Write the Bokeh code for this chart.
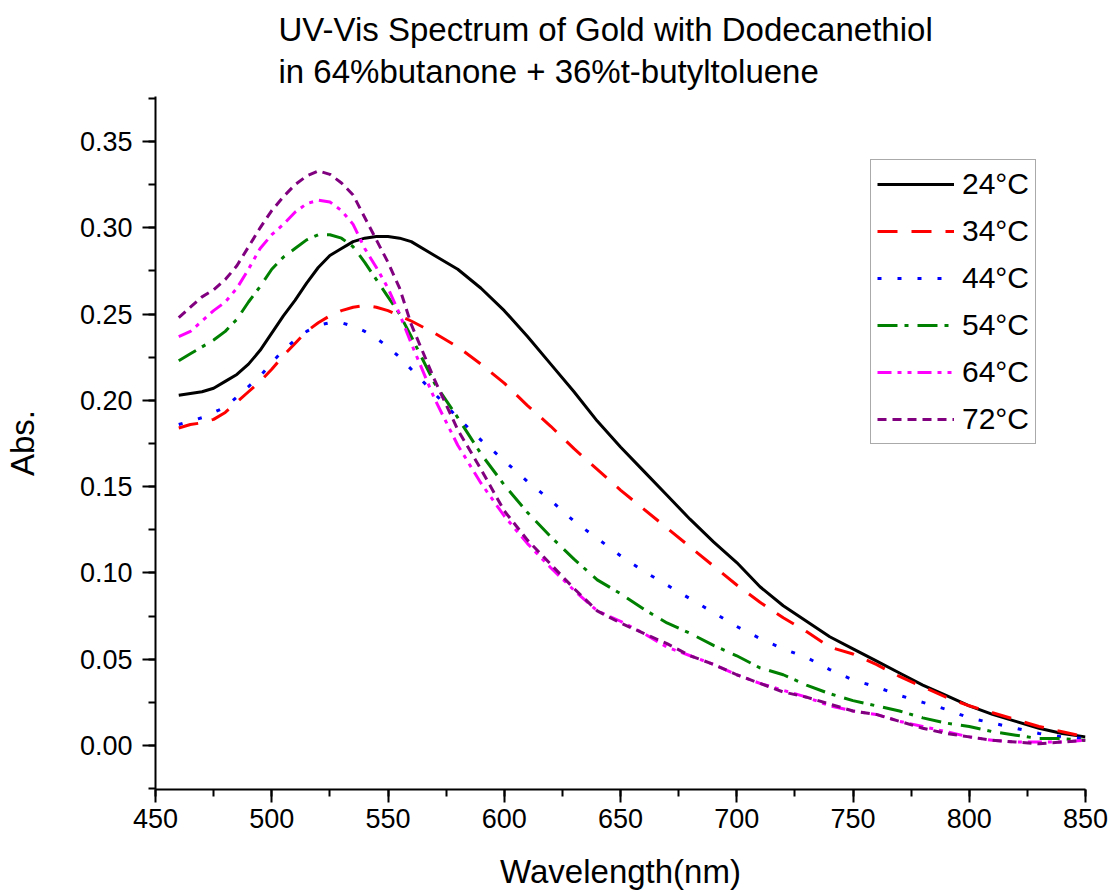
from bokeh.plotting import figure
from bokeh.models import (Range1d, SingleIntervalTicker, NumeralTickFormatter,
                          Title, Legend, LegendItem)
from bokeh.embed import file_html
from bokeh.resources import INLINE

wavelength = [460, 465, 470, 475, 480, 485, 490, 495, 500, 505, 510, 515, 520, 525,
              530, 535, 540, 545, 550, 555, 560, 570, 580, 590, 600, 610, 620, 630,
              640, 650, 660, 670, 680, 690, 700, 710, 720, 730, 740, 750, 760, 770,
              780, 790, 800, 810, 820, 830, 840, 850]

abs_24 = [0.203, 0.204, 0.205, 0.207, 0.211, 0.215, 0.221, 0.229, 0.239, 0.249, 0.258,
          0.268, 0.277, 0.284, 0.288, 0.292, 0.294, 0.295, 0.295, 0.294, 0.292, 0.284,
          0.276, 0.265, 0.252, 0.237, 0.221, 0.205, 0.188, 0.173, 0.159, 0.145, 0.131,
          0.118, 0.106, 0.092, 0.081, 0.072, 0.063, 0.056, 0.049, 0.042, 0.035, 0.029,
          0.023, 0.018, 0.014, 0.010, 0.007, 0.005]
abs_34 = [0.184, 0.186, 0.187, 0.189, 0.193, 0.199, 0.205, 0.211, 0.218, 0.226, 0.233,
          0.240, 0.245, 0.249, 0.252, 0.254, 0.255, 0.254, 0.252, 0.249, 0.246, 0.239,
          0.231, 0.221, 0.210, 0.197, 0.185, 0.172, 0.160, 0.148, 0.137, 0.126, 0.115,
          0.104, 0.093, 0.083, 0.074, 0.066, 0.057, 0.053, 0.047, 0.040, 0.034, 0.028,
          0.023, 0.019, 0.015, 0.011, 0.008, 0.005]
abs_44 = [0.186, 0.188, 0.190, 0.193, 0.196, 0.202, 0.208, 0.214, 0.222, 0.229, 0.235,
          0.240, 0.2435, 0.245, 0.245, 0.243, 0.240, 0.236, 0.231, 0.225, 0.218, 0.204,
          0.190, 0.177, 0.165, 0.153, 0.142, 0.130, 0.120, 0.110, 0.101, 0.093, 0.085,
          0.077, 0.069, 0.062, 0.056, 0.051, 0.044, 0.038, 0.034, 0.029, 0.025, 0.021,
          0.016, 0.013, 0.010, 0.007, 0.005, 0.004]
abs_54 = [0.223, 0.227, 0.231, 0.235, 0.240, 0.247, 0.257, 0.266, 0.276, 0.283, 0.288,
          0.293, 0.296, 0.296, 0.294, 0.289, 0.280, 0.270, 0.260, 0.250, 0.237, 0.210,
          0.190, 0.169, 0.151, 0.135, 0.121, 0.108, 0.096, 0.088, 0.079, 0.071, 0.065,
          0.058, 0.052, 0.045, 0.041, 0.035, 0.030, 0.026, 0.023, 0.020, 0.016, 0.013,
          0.011, 0.008, 0.006, 0.004, 0.004, 0.003]
abs_64 = [0.237, 0.240, 0.246, 0.252, 0.257, 0.265, 0.276, 0.288, 0.296, 0.302, 0.309,
          0.314, 0.316, 0.315, 0.310, 0.302, 0.288, 0.277, 0.265, 0.250, 0.233, 0.201,
          0.174, 0.152, 0.133, 0.117, 0.103, 0.090, 0.078, 0.072, 0.065, 0.057, 0.052,
          0.047, 0.041, 0.036, 0.032, 0.028, 0.023, 0.020, 0.018, 0.014, 0.011, 0.008,
          0.005, 0.003, 0.002, 0.002, 0.002, 0.003]
abs_72 = [0.248, 0.254, 0.260, 0.264, 0.270, 0.278, 0.289, 0.300, 0.310, 0.318, 0.325,
          0.330, 0.333, 0.331, 0.326, 0.319, 0.306, 0.293, 0.280, 0.265, 0.244, 0.212,
          0.183, 0.160, 0.136, 0.119, 0.105, 0.091, 0.078, 0.071, 0.065, 0.059, 0.052,
          0.047, 0.041, 0.036, 0.031, 0.028, 0.024, 0.020, 0.018, 0.014, 0.010, 0.007,
          0.005, 0.003, 0.002, 0.001, 0.002, 0.003]

series_labels = ["24°C", "34°C", "44°C", "54°C", "64°C", "72°C"]
series_values = [abs_24, abs_34, abs_44, abs_54, abs_64, abs_72]
series_colors = ["#000000", "#FF0000", "#0000FF", "#008000", "#FF00FF", "#800080"]
series_dashes = ["solid", "20 14", "4 16", "20 7 4 9", "14 6 4 6 4 6", "9 6"]

FONT = "Liberation Sans"

p = figure(frame_width=930, frame_height=693, title=None,
           x_range=Range1d(450, 850), y_range=Range1d(-0.0255, 0.3761),
           output_backend="svg", toolbar_location=None,
           min_border_left=155, min_border_right=25, min_border_top=96,
           min_border_bottom=103)
p.outline_line_color = None
p.xgrid.visible = False
p.ygrid.visible = False

renderers = []
for vals, col, dash in zip(series_values, series_colors, series_dashes):
    r = p.line(wavelength, vals, line_color=col, line_width=3, line_dash=dash)
    renderers.append(r)

p.xaxis.ticker = SingleIntervalTicker(interval=50, num_minor_ticks=2)
p.yaxis.ticker = SingleIntervalTicker(interval=0.05, num_minor_ticks=2)
p.yaxis.formatter = NumeralTickFormatter(format="0.00")
p.xaxis.axis_label = "Wavelength(nm)"
p.yaxis.axis_label = "Abs."

for ax in [p.xaxis[0], p.yaxis[0]]:
    ax.axis_line_width = 2
    ax.axis_line_color = "black"
    ax.major_tick_line_width = 2
    ax.minor_tick_line_width = 2
    ax.major_tick_line_color = "black"
    ax.minor_tick_line_color = "black"
    ax.major_tick_out = 13
    ax.major_tick_in = 0
    ax.minor_tick_out = 7
    ax.minor_tick_in = 0
    ax.major_label_text_font = FONT
    ax.major_label_text_font_size = "27px"
    ax.major_label_text_color = "black"
    ax.axis_label_text_font = FONT
    ax.axis_label_text_font_size = "33px"
    ax.axis_label_text_font_style = "normal"
    ax.axis_label_text_color = "black"

p.xaxis[0].major_label_standoff = 6
p.xaxis[0].axis_label_standoff = 22
p.yaxis[0].major_label_standoff = 10
p.yaxis[0].axis_label_standoff = 36

legend = Legend(items=[LegendItem(label=lab, renderers=[r])
                       for lab, r in zip(series_labels, renderers)],
                location=(715, 345), glyph_width=77, glyph_height=36,
                label_height=36, spacing=11, padding=6, margin=0,
                label_standoff=8, label_text_font=FONT,
                label_text_font_size="30px", label_text_color="black",
                border_line_color="#555555", border_line_width=1.5,
                background_fill_color="white", background_fill_alpha=1)
p.add_layout(legend)

t2 = Title(text="in 64%butanone + 36%t-butyltoluene", align="left", offset=123,
           text_font=FONT, text_font_size="33px", text_font_style="normal",
           text_color="black", standoff=14)
p.add_layout(t2, "above")
t1 = Title(text="UV-Vis Spectrum of Gold with Dodecanethiol", align="left", offset=123,
           text_font=FONT, text_font_size="33px", text_font_style="normal",
           text_color="black", standoff=-9)
p.add_layout(t1, "above")

open("out.html", "w").write(file_html(p, INLINE))
